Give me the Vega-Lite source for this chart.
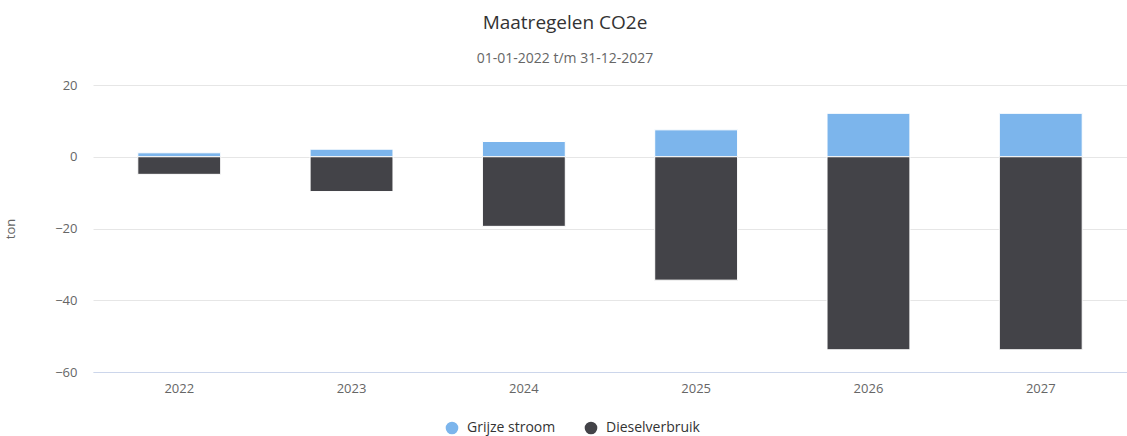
{
  "$schema": "https://vega.github.io/schema/vega-lite/v6.json",
  "autosize": "none",
  "width": 1034,
  "height": 287,
  "padding": {"left": 93, "top": 85, "right": 0, "bottom": 64},
  "background": "#ffffff",
  "title": {
    "text": "Maatregelen CO2e",
    "subtitle": "01-01-2022 t/m 31-12-2027",
    "anchor": "middle",
    "dx": -45,
    "offset": 13,
    "fontSize": 19,
    "fontWeight": "normal",
    "color": "#333333",
    "font": "Open Sans",
    "subtitleFont": "Open Sans",
    "subtitleFontSize": 14,
    "subtitleColor": "#666666",
    "subtitlePadding": 19
  },
  "data": {
    "values": [
      {"jaar": "2022", "serie": "Grijze stroom", "ton": 1.1},
      {"jaar": "2022", "serie": "Dieselverbruik", "ton": -4.9},
      {"jaar": "2023", "serie": "Grijze stroom", "ton": 2.1},
      {"jaar": "2023", "serie": "Dieselverbruik", "ton": -9.7},
      {"jaar": "2024", "serie": "Grijze stroom", "ton": 4.25},
      {"jaar": "2024", "serie": "Dieselverbruik", "ton": -19.4},
      {"jaar": "2025", "serie": "Grijze stroom", "ton": 7.5},
      {"jaar": "2025", "serie": "Dieselverbruik", "ton": -34.4},
      {"jaar": "2026", "serie": "Grijze stroom", "ton": 12.1},
      {"jaar": "2026", "serie": "Dieselverbruik", "ton": -53.8},
      {"jaar": "2027", "serie": "Grijze stroom", "ton": 12.1},
      {"jaar": "2027", "serie": "Dieselverbruik", "ton": -53.8}
    ]
  },
  "mark": {"type": "bar", "stroke": "#ffffff", "strokeWidth": 1},
  "encoding": {
    "x": {
      "field": "jaar",
      "type": "ordinal",
      "scale": {"paddingInner": 0.519, "paddingOuter": 0.26},
      "axis": {
        "title": null,
        "labelAngle": 0,
        "labelColor": "#666666",
        "labelFont": "Open Sans",
        "labelFontSize": 13,
        "labelPadding": 10,
        "ticks": false,
        "domainColor": "#ccd6eb",
        "domainWidth": 1,
        "grid": false
      }
    },
    "y": {
      "field": "ton",
      "type": "quantitative",
      "stack": "zero",
      "scale": {"domain": [-60, 20], "nice": false},
      "axis": {
        "title": "ton",
        "titleColor": "#666666",
        "titleFont": "Open Sans",
        "titleFontSize": 13,
        "titleFontWeight": "normal",
        "titlePadding": 37,
        "values": [-60, -40, -20, 0, 20],
        "labelColor": "#666666",
        "labelFont": "Open Sans",
        "labelFontSize": 13,
        "labelPadding": 16,
        "ticks": false,
        "domain": false,
        "gridColor": "#e6e6e6",
        "gridWidth": 1
      }
    },
    "color": {
      "field": "serie",
      "type": "nominal",
      "sort": ["Grijze stroom", "Dieselverbruik"],
      "scale": {"domain": ["Grijze stroom", "Dieselverbruik"], "range": ["#7cb5ec", "#434348"]},
      "legend": {
        "title": null,
        "orient": "none",
        "direction": "horizontal",
        "legendX": 352,
        "legendY": 336,
        "symbolType": "circle",
        "symbolSize": 160,
        "symbolStrokeWidth": 0,
        "labelFont": "Open Sans",
        "labelFontSize": 14,
        "labelColor": "#333333",
        "columnPadding": 28,
        "labelOffset": 8
      }
    },
    "order": {"field": "serie", "sort": "descending"}
  },
  "config": {"view": {"stroke": null}}
}
